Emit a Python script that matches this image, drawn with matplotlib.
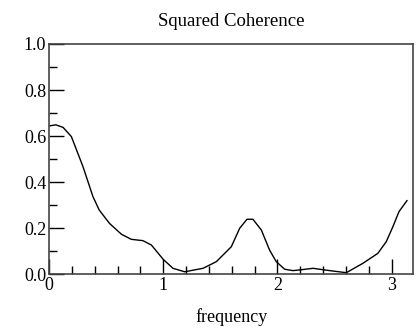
import matplotlib
matplotlib.use("Agg")
import matplotlib.pyplot as plt
from matplotlib.ticker import MultipleLocator, FormatStrFormatter

freq = [0.0, 0.06, 0.123, 0.196, 0.298, 0.385, 0.44, 0.53, 0.634, 0.72, 0.823, 0.897,
        1.0, 1.086, 1.188, 1.349, 1.466, 1.597, 1.67, 1.734, 1.786, 1.86, 1.932, 1.99,
        2.064, 2.137, 2.195, 2.312, 2.458, 2.604, 2.75, 2.88, 2.954, 3.012, 3.065, 3.135]
coh = [0.644, 0.649, 0.638, 0.598, 0.467, 0.337, 0.279, 0.221, 0.174, 0.152, 0.146, 0.127,
       0.065, 0.026, 0.011, 0.026, 0.055, 0.12, 0.2, 0.239, 0.239, 0.192, 0.105, 0.055,
       0.022, 0.016, 0.019, 0.026, 0.016, 0.007, 0.048, 0.091, 0.142, 0.207, 0.272, 0.32]

plt.rcParams['font.family'] = ['Liberation Serif', 'DejaVu Serif']

fig = plt.figure(figsize=(4.17, 3.28), dpi=100)
ax = fig.add_axes([0.1175, 0.1637, 0.8735, 0.7022])
ax.plot(freq, coh, color='black', linewidth=1.0)
ax.set_xlim(0, 3.19)
ax.set_ylim(0, 1.0)
ax.xaxis.set_major_locator(MultipleLocator(1))
ax.xaxis.set_minor_locator(MultipleLocator(0.2))
ax.yaxis.set_major_locator(MultipleLocator(0.2))
ax.yaxis.set_minor_locator(MultipleLocator(0.1))
ax.yaxis.set_major_formatter(FormatStrFormatter('%.1f'))
ax.tick_params(which='both', direction='in', top=False, right=False, labelsize=13, color='black')
ax.tick_params(which='major', length=11, width=1.0, pad=2)
ax.tick_params(which='minor', length=6, width=1.0)
for s in ax.spines.values():
    s.set_color('#444444')
    s.set_linewidth(1.2)
ax.set_title("Squared Coherence", fontsize=13.5, pad=13)
ax.set_xlabel("frequency", fontsize=13, labelpad=10)
fig.savefig("out.png", dpi=100)
